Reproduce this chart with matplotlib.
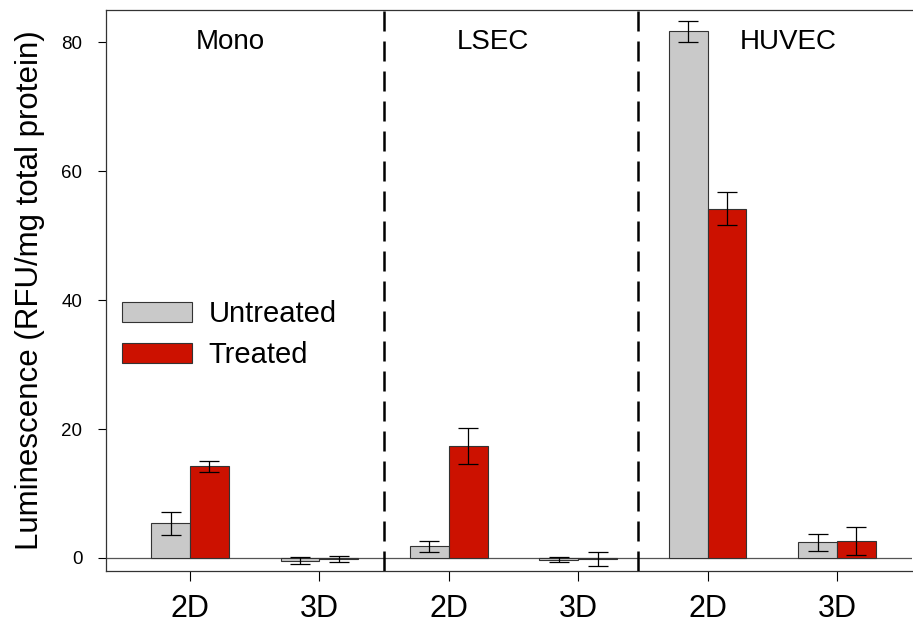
import numpy as np
import matplotlib.pyplot as plt
from matplotlib.patches import Patch

plt.rcParams["font.family"] = ["Liberation Sans", "DejaVu Sans"]

GROUPS = ["Mono", "LSEC", "HUVEC"]
DIMS = ["2D", "3D"]
UNTREATED = [5.4, -0.4, 1.8, -0.3, 81.7, 2.4]
UNTREATED_ERR = [1.8, 0.6, 0.9, 0.4, 1.6, 1.3]
TREATED = [14.2, -0.2, 17.4, -0.2, 54.2, 2.6]
TREATED_ERR = [0.8, 0.5, 2.8, 1.1, 2.6, 2.2]

GRAY = "#c9c9c9"
RED = "#cc1100"

fig = plt.figure(figsize=(9.13, 6.28), dpi=100)
ax = fig.add_axes([0.116, 0.091, 0.883, 0.893])

x = np.arange(len(UNTREATED))
w = 0.30
ekw = dict(elinewidth=0.9, capsize=7, capthick=0.9, ecolor="black")
ax.bar(x - w / 2, UNTREATED, w, yerr=UNTREATED_ERR, color=GRAY,
       edgecolor="#333333", linewidth=0.8, error_kw=ekw, zorder=3)
ax.bar(x + w / 2, TREATED, w, yerr=TREATED_ERR, color=RED,
       edgecolor="#333333", linewidth=0.8, error_kw=ekw, zorder=3)

ax.axhline(0, color="#555555", linewidth=0.9, zorder=2)
for xd in [1.5, 3.46]:
    ax.axvline(xd, color="black", linewidth=1.8, linestyle=(0, (8, 4)), zorder=4)

for xg, name in zip([0.31, 2.34, 4.62], GROUPS):
    ax.text(xg, 80.0, name, ha="center", va="center", fontsize=20)

ax.set_xlim(-0.65, 5.58)
ax.set_ylim(-2, 85)
ax.set_xticks(x)
ax.set_xticklabels(DIMS * 3, fontsize=22)
ax.set_yticks([0, 20, 40, 60, 80])
ax.tick_params(axis="x", direction="out", length=7, width=0.8, pad=10)
ax.tick_params(axis="y", direction="out", length=6, width=0.8, pad=11, labelsize=13.5)
ax.set_ylabel("Luminescence (RFU/mg total protein)", fontsize=22.5, labelpad=12)
for s in ["left", "top", "bottom"]:
    ax.spines[s].set_linewidth(0.9)
    ax.spines[s].set_color("#333333")
ax.spines["right"].set_visible(False)

handles = [Patch(facecolor=GRAY, edgecolor="#333333", linewidth=0.8),
           Patch(facecolor=RED, edgecolor="#333333", linewidth=0.8)]
ax.legend(handles, ["Untreated", "Treated"], fontsize=21, frameon=False,
          loc="center left", bbox_to_anchor=(-0.012, 0.421),
          handlelength=2.4, handleheight=0.65, handletextpad=0.55, labelspacing=0.45)

fig.savefig("out.png", dpi=100)
